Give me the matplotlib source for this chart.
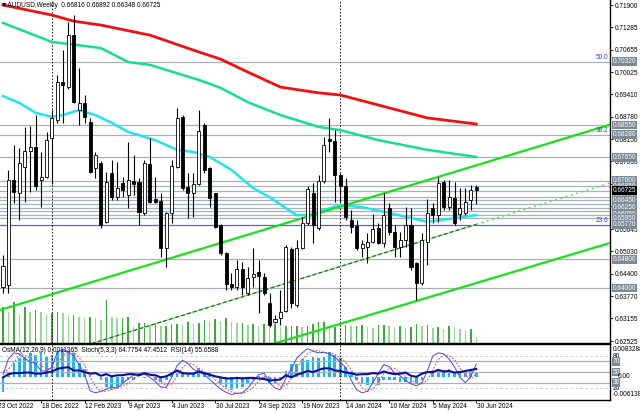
import matplotlib
matplotlib.use("Agg")
import matplotlib.pyplot as plt
import matplotlib.transforms as mtransforms

plt.rcParams['font.family'] = ['Liberation Sans', 'DejaVu Sans']

# weekly AUDUSD candles, week of 30 Oct 2022 (index 0) to 30 Jun 2024 (index 87)
opens = [0.6403, 0.6410, 0.6702, 0.6666, 0.6738, 0.6783, 0.6794, 0.6702, 0.6710, 0.6819,
         0.6869, 0.6975, 0.6961, 0.7106, 0.6897, 0.6917, 0.6864, 0.6735, 0.6749, 0.6585,
         0.6721, 0.6654, 0.6693, 0.6660, 0.6699, 0.6696, 0.6610, 0.6746, 0.6649, 0.6643,
         0.6512, 0.6610, 0.6738, 0.6878, 0.6682, 0.6666, 0.6691, 0.6855, 0.6735, 0.6666,
         0.6576, 0.6498, 0.6412, 0.6403, 0.6453, 0.6387, 0.6432, 0.6445, 0.6431, 0.6359,
         0.6306, 0.6317, 0.6336, 0.6509, 0.6353, 0.6512, 0.6582, 0.6666, 0.6568, 0.6699,
         0.6816, 0.6811, 0.6716, 0.6685, 0.6590, 0.6573, 0.6512, 0.6515, 0.6529, 0.6568,
         0.6526, 0.6624, 0.6557, 0.6515, 0.6534, 0.6576, 0.6470, 0.6414, 0.6529, 0.6624,
         0.6604, 0.6696, 0.6626, 0.6652, 0.6608, 0.6610, 0.6646, 0.66816]
highs = [0.6493, 0.6730, 0.6799, 0.6790, 0.6850, 0.6852, 0.6883, 0.6780, 0.6836, 0.6897,
         0.6995, 0.7064, 0.7143, 0.7162, 0.7014, 0.6939, 0.6875, 0.6780, 0.6755, 0.6724,
         0.6758, 0.6752, 0.6710, 0.6808, 0.6772, 0.6707, 0.6758, 0.6819, 0.6710, 0.6666,
         0.6613, 0.6758, 0.6903, 0.6883, 0.6721, 0.6721, 0.6897, 0.6861, 0.6738, 0.6666,
         0.6580, 0.6500, 0.6442, 0.6479, 0.6473, 0.6459, 0.6512, 0.6479, 0.6442, 0.6387,
         0.6325, 0.6395, 0.6520, 0.6515, 0.6534, 0.6599, 0.6685, 0.6693, 0.6716, 0.6822,
         0.6875, 0.6841, 0.6720, 0.6707, 0.6618, 0.6590, 0.6534, 0.6554, 0.6608, 0.6582,
         0.6666, 0.6638, 0.6576, 0.6557, 0.6626, 0.6624, 0.6472, 0.6554, 0.6649, 0.6638,
         0.6710, 0.6702, 0.6702, 0.6696, 0.6679, 0.6679, 0.6688, 0.66892]
lows = [0.6387, 0.6386, 0.6638, 0.6590, 0.6640, 0.6668, 0.6674, 0.6626, 0.6707, 0.6690,
        0.6861, 0.6861, 0.6955, 0.6918, 0.6855, 0.6861, 0.6721, 0.6707, 0.6568, 0.6582,
        0.6646, 0.6646, 0.6654, 0.6624, 0.6660, 0.6576, 0.6605, 0.6638, 0.6638, 0.6487,
        0.6459, 0.6582, 0.6735, 0.6674, 0.6596, 0.6599, 0.6688, 0.6721, 0.6626, 0.6568,
        0.6493, 0.6395, 0.6395, 0.6395, 0.6381, 0.6381, 0.6403, 0.6331, 0.6381, 0.6292,
        0.6303, 0.6297, 0.6334, 0.6345, 0.6348, 0.6510, 0.6576, 0.6526, 0.6562, 0.6693,
        0.6780, 0.6640, 0.6640, 0.6590, 0.6554, 0.6506, 0.6487, 0.6470, 0.6525, 0.6524,
        0.6515, 0.6548, 0.6487, 0.6487, 0.6515, 0.6451, 0.6367, 0.6410, 0.6465, 0.6582,
        0.6585, 0.6618, 0.6618, 0.6576, 0.6590, 0.6604, 0.6618, 0.66348]
closes = [0.6462, 0.6702, 0.6668, 0.6749, 0.6783, 0.6794, 0.6685, 0.6710, 0.6813, 0.6875,
          0.6975, 0.6967, 0.7106, 0.6919, 0.6917, 0.6878, 0.6724, 0.6772, 0.6576, 0.6696,
          0.6654, 0.6679, 0.6674, 0.6702, 0.6691, 0.6613, 0.6749, 0.6640, 0.6640, 0.6512,
          0.6610, 0.6741, 0.6875, 0.6679, 0.6666, 0.6691, 0.6839, 0.6730, 0.6652, 0.6571,
          0.6498, 0.6412, 0.6403, 0.6453, 0.6403, 0.6428, 0.6440, 0.6434, 0.6387, 0.6297,
          0.6314, 0.6334, 0.6515, 0.6359, 0.6512, 0.6582, 0.6677, 0.6576, 0.6699, 0.6799,
          0.6811, 0.6716, 0.6685, 0.6599, 0.6571, 0.6512, 0.6523, 0.6529, 0.6565, 0.6526,
          0.6604, 0.6557, 0.6515, 0.6534, 0.6576, 0.6459, 0.6414, 0.6534, 0.6610, 0.6604,
          0.6693, 0.6626, 0.6654, 0.6582, 0.6625, 0.6640, 0.6674, 0.66725]
volumes = [36, 31, 41, 28, 36, 31, 33, 31, 28, 30, 31, 30, 27, 28, 26, 25, 26, 25, 23, 43,
           26, 25, 25, 26, 16, 20, 20, 18, 20, 17, 17, 19, 19, 18, 21, 19, 20, 23, 21, 24,
           22, 25, 21, 20, 20, 18, 19, 17, 19, 17, 19, 16, 17, 17, 17, 16, 17, 19, 21, 21,
           16, 16, 15, 18, 17, 17, 18, 16, 15, 18, 18, 17, 16, 17, 15, 16, 19, 17, 18, 15,
           16, 14, 17, 16, 14, 13, 14, 6]

# moving averages, read at a few bars
red_idx = [0, 9, 13, 18, 27, 36, 40, 45, 51, 58, 62, 69, 78, 87]
red_ma = [0.7190, 0.7162, 0.7145, 0.7134, 0.7106, 0.7059, 0.7039, 0.7003, 0.6961, 0.6945,
          0.6939, 0.6911, 0.6875, 0.6858]
mint_idx = [0, 9, 18, 23, 27, 36, 40, 45, 51, 58, 62, 69, 78, 87]
mint_ma = [0.7140, 0.7087, 0.7070, 0.7031, 0.7023, 0.6981, 0.6959, 0.6919, 0.6883, 0.6850,
           0.6841, 0.6813, 0.6786, 0.6766]
cyan_idx = [0, 3, 6, 9, 11, 14, 17, 20, 23, 28, 32, 35, 38, 42, 46, 49, 53, 54, 56, 62,
            66, 71, 78, 82, 87]
cyan_ma = [0.6936, 0.6917, 0.6889, 0.6878, 0.6883, 0.6897, 0.6883, 0.6861, 0.6836, 0.6813,
           0.6786, 0.6780, 0.6766, 0.6730, 0.6679, 0.6654, 0.6613, 0.6604, 0.6604, 0.6632,
           0.6626, 0.6610, 0.6585, 0.6593, 0.6604]

# trend lines (bar index, price)
upper_idx, upper_px = [-1, 112], [0.6337, 0.6858]
lower_idx, lower_px = [50, 112], [0.6246, 0.6528]
mid_idx, mid_px = [13, 87], [0.6230, 0.6578]
mid_ext_idx, mid_ext_px = [87, 112], [0.6578, 0.6695]

levels = [0.70320, 0.68550, 0.68280, 0.67650, 0.67000, 0.66850, 0.66700, 0.66550, 0.66450,
          0.66350, 0.66250, 0.66150, 0.66050, 0.65950, 0.64800, 0.64000]
fib_level = 0.65770
boxed = ['0.70320', '0.68550', '0.68280', '0.67650', '0.67000', '0.66850', '0.66550',
         '0.66450', '0.66250', '0.66050', '0.65950', '0.65770', '0.64800', '0.64000']
fib_text = [('50.0', 0.70320), ('38.2', 0.68280), ('23.6', 0.65770)]
last_price = 0.66725
price_ticks = [0.71900, 0.71285, 0.70655, 0.70025, 0.69410, 0.68780, 0.68150, 0.67535,
               0.66905, 0.66290, 0.65645, 0.65030, 0.64400, 0.63770, 0.63155, 0.62525]

date_idx = [-1, 7, 15, 23, 31, 39, 47, 55, 63, 71, 79, 87]
date_lbl = ['23 Oct 2022', '18 Dec 2022', '12 Feb 2023', '9 Apr 2023', '4 Jun 2023',
            '30 Jul 2023', '24 Sep 2023', '19 Nov 2023', '14 Jan 2024', '10 Mar 2024',
            '5 May 2024', '30 Jun 2024']
year_sep = [9, 62]

osma = [-0.0039, 0.0014, 0.0037, 0.0050, 0.0054, 0.0063, 0.0059, 0.0068, 0.0054, 0.0059,
        0.0070, 0.0072, 0.0068, 0.0063, 0.0037, 0.0021, 0.0005, -0.0001, -0.0008, -0.0026,
        -0.0035, -0.0028, -0.0017, -0.0008, -0.0007, 0.0001, -0.0004, 0.0001, -0.0007, -0.0013,
        -0.0008, 0.0012, 0.0014, 0.0012, 0.0010, 0.0012, 0.0023, 0.0014, 0.0010, 0.0001,
        -0.0017, -0.0026, -0.0035, -0.0033, -0.0026, -0.0017, -0.0008, 0.0003, -0.0007, -0.0019,
        -0.0017, -0.0002, 0.0017, 0.0036, 0.0036, 0.0047, 0.0045, 0.0054, 0.0050, 0.0054,
        0.0068, 0.0059, 0.0050, 0.0027, 0.0010, -0.0007, -0.0017, -0.0022, -0.0019, -0.0022,
        -0.0008, -0.0008, -0.0007, -0.0013, -0.0013, -0.0017, -0.0015, -0.0007, 0.0001, 0.0010,
        0.0019, 0.0019, 0.0021, 0.0012, 0.0014, 0.0012, 0.0019, 0.0011365]
stoch_main = [45, 75, 86, 84, 76, 69, 66, 52, 52, 59, 88, 93, 88, 80, 64, 45, 15, 11, 14, 18,
              22, 20, 29, 37, 44, 47, 46, 40, 32, 22, 21, 40, 62, 72, 66, 55, 50, 45, 36, 27,
              18, 12, 8, 10, 11, 20, 33, 45, 48, 30, 20, 17, 38, 56, 76, 86, 94, 89, 86, 87,
              84, 78, 69, 58, 35, 17, 11, 14, 30, 48, 64, 60, 48, 43, 34, 28, 24, 30, 52, 80,
              86, 84, 74, 60, 40, 30, 42, 64.7754]
stoch_sig = [50, 55, 68, 82, 82, 76, 70, 62, 57, 54, 66, 80, 90, 87, 77, 63, 41, 24, 13, 14,
             18, 20, 24, 29, 37, 43, 46, 44, 39, 31, 25, 28, 41, 58, 67, 64, 57, 50, 44, 36,
             27, 19, 13, 10, 10, 14, 21, 33, 42, 41, 33, 22, 25, 37, 57, 73, 85, 90, 90, 87,
             86, 83, 77, 68, 54, 37, 21, 14, 18, 31, 47, 57, 57, 50, 42, 35, 29, 27, 35, 54,
             73, 83, 81, 73, 58, 43, 37, 47.4512]
rsi = [40, 46, 48, 48, 49, 49, 47, 47, 49, 51, 56, 58, 59, 53, 53, 50, 47, 48, 43, 46,
       42, 44, 44, 46, 46, 44, 48, 45, 44, 40, 42, 47, 53, 48, 47, 47, 51, 48, 45, 42,
       40, 38, 38, 39, 38, 39, 39, 38, 37, 34, 35, 36, 44, 40, 45, 48, 52, 50, 54, 57,
       57, 53, 52, 49, 48, 45, 46, 46, 48, 47, 51, 48, 46, 47, 49, 43, 41, 47, 50, 50,
       54, 51, 52, 49, 50, 52, 54, 55.6588]

n = len(closes)
idx = list(range(n))
fs = 4.7

fig = plt.figure(figsize=(6.4, 4.13), dpi=100)
ax = fig.add_axes([0, 70 / 413, 610 / 640, 343 / 413])
axv = ax.twinx()
ax.set_zorder(axv.get_zorder() + 1)
ax.patch.set_visible(False)

# volumes behind candles
vcol = ['#3aaa3a' if i == 0 or volumes[i] >= volumes[i - 1] else '#96d896' for i in idx]
axv.bar(idx, volumes, width=0.28, color=vcol)
axv.set_ylim(0, max(volumes) * 8)
axv.axis('off')

for lv in levels:
    ax.axhline(lv, color='#a8b0b8', lw=0.9, zorder=1)
ax.axhline(fib_level, color='#5a5aff', lw=0.9, zorder=1)

for s in year_sep:
    ax.axvline(s, color='black', lw=0.6, ls=(0, (2, 2)), zorder=1)

ax.plot(red_idx, red_ma, color='#f01010', lw=2.0, zorder=2)
ax.plot(mint_idx, mint_ma, color='#14e08c', lw=1.8, zorder=2)
ax.plot(cyan_idx, cyan_ma, color='#22e4f0', lw=1.8, zorder=2)

ax.plot(upper_idx, upper_px, color='#19e019', lw=1.6, zorder=2)
ax.plot(lower_idx, lower_px, color='#19e019', lw=1.6, zorder=2)
ax.plot(mid_idx, mid_px, color='#7de07d', lw=0.9, zorder=2)
ax.plot(mid_idx, mid_px, color='#1f6f1f', lw=0.9, ls=(0, (3, 2)), zorder=2)
ax.plot(mid_ext_idx, mid_ext_px, color='#33ee33', lw=1.1, ls=(0, (1.2, 2.4)), zorder=2)

# candles
ax.vlines(idx, lows, highs, color='black', lw=0.8, zorder=3)
bodies = [abs(c - o) for o, c in zip(opens, closes)]
bottoms = [min(o, c) for o, c in zip(opens, closes)]
faces = ['white' if c >= o else 'black' for o, c in zip(opens, closes)]
ax.bar(idx, bodies, bottom=bottoms, width=0.56, color=faces, edgecolor='black', lw=0.6, zorder=4)

ax.set_xlim(-3 / 5.44, 607 / 5.44)
ax.set_ylim(0.6247, 0.7204)
ax.set_xticks([])
ax.yaxis.tick_right()
ax.set_yticks(price_ticks)
ax.set_yticklabels(['%.5f' % p for p in price_ticks])
ax.tick_params(axis='y', labelsize=fs, length=2.5, width=0.6, pad=1.2)
for side in ['left', 'top']:
    ax.spines[side].set_visible(False)
ax.spines['right'].set_linewidth(1.0)
ax.spines['bottom'].set_linewidth(1.0)

tr = mtransforms.blended_transform_factory(ax.transAxes, ax.transData)
for lab in boxed:
    ax.text(1.004, float(lab), lab, transform=tr, fontsize=fs, color='white', va='center',
            ha='left', clip_on=False, zorder=6,
            bbox=dict(boxstyle='square,pad=0.12', fc='#7c8996', ec='none'))
ax.text(1.004, last_price, '%.5f' % last_price, transform=tr, fontsize=fs, color='white',
        va='center', ha='left', clip_on=False, zorder=7,
        bbox=dict(boxstyle='square,pad=0.12', fc='black', ec='none'))
for t, p in fib_text:
    ax.text(0.997, p + 0.0002, t, transform=tr, fontsize=fs, color='#3c3cff', ha='right',
            va='bottom', zorder=6)

ax.text(0.002, 0.985, '\u25bcAUDUSD,Weekly  0.66816 0.66892 0.66348 0.66725',
        transform=ax.transAxes, fontsize=fs, va='center', ha='left', zorder=8)

# indicator window
ax2 = fig.add_axes([0, 13 / 413, 610 / 640, 56 / 413])
ax3 = ax2.twinx()
ax2.set_zorder(ax3.get_zorder() + 1)
ax2.patch.set_visible(False)

ax3.bar(idx, osma, width=0.5, color='#1cb4ee')
ax3.set_ylim(-0.00616, 0.00884)
ax3.set_yticks([])
for side in ['left', 'top', 'right', 'bottom']:
    ax3.spines[side].set_visible(False)

for lv in [80, 20]:
    ax2.axhline(lv, color='#c4c4c4', lw=0.6, ls=(0, (3, 3)))
for lv in [70, 50, 30]:
    ax2.axhline(lv, color='#a8b0b8', lw=0.9)
for s in year_sep:
    ax2.axvline(s, color='black', lw=0.6, ls=(0, (2, 2)))

ax2.plot(idx, stoch_sig, color='#ff4a4a', lw=0.8, ls=(0, (1.5, 1.5)))
ax2.plot(idx, stoch_main, color='#4646ff', lw=0.7)
ax2.plot(idx, rsi, color='#0c0ca0', lw=1.5)

ax2.set_xlim(-3 / 5.44, 607 / 5.44)
ax2.set_ylim(-2.44, 102.6)
ax2.set_yticks([])
ax2.spines['left'].set_visible(False)
for side in ['top', 'right', 'bottom']:
    ax2.spines[side].set_linewidth(1.0)

ax2.set_xticks(date_idx[1:])
ax2.set_xticklabels([''] * (len(date_idx) - 1))
ax2.tick_params(axis='x', length=2, width=0.6)
trx = mtransforms.blended_transform_factory(ax2.transData, ax2.transAxes)
for i, lab in zip(date_idx, date_lbl):
    ax2.text(i + 0.1, -0.11, lab, transform=trx, fontsize=fs, ha='left', va='center',
             clip_on=False)

ax2.text(0.003, 0.89, 'OsMA(12,26,9) 0.0011365  Stoch(5,3,3) 64.7754 47.4512  RSI(14) 55.6588',
         transform=ax2.transAxes, fontsize=fs, va='center', ha='left')

tr2 = mtransforms.blended_transform_factory(ax2.transAxes, ax2.transData)
ax2.text(1.004, 0.91, '0.0083288', transform=ax2.transAxes, fontsize=fs, va='center', clip_on=False)
ax2.text(1.004, 0.09, '-0.006138', transform=ax2.transAxes, fontsize=fs, va='center', clip_on=False)
ax2.text(1.004, 80, '80', transform=tr2, fontsize=fs, va='center', clip_on=False)
ax2.text(1.004, 20, '20', transform=tr2, fontsize=fs, va='center', clip_on=False)
for lv in [70, 50, 30]:
    ax2.text(1.004, lv, str(lv), transform=tr2, fontsize=fs, color='white', va='center',
             clip_on=False, bbox=dict(boxstyle='square,pad=0.12', fc='#7c8996', ec='none'))
ax2.text(1.012, 41, '0.00', transform=tr2, fontsize=fs, va='center', clip_on=False)

fig.savefig('out.png', dpi=100)
